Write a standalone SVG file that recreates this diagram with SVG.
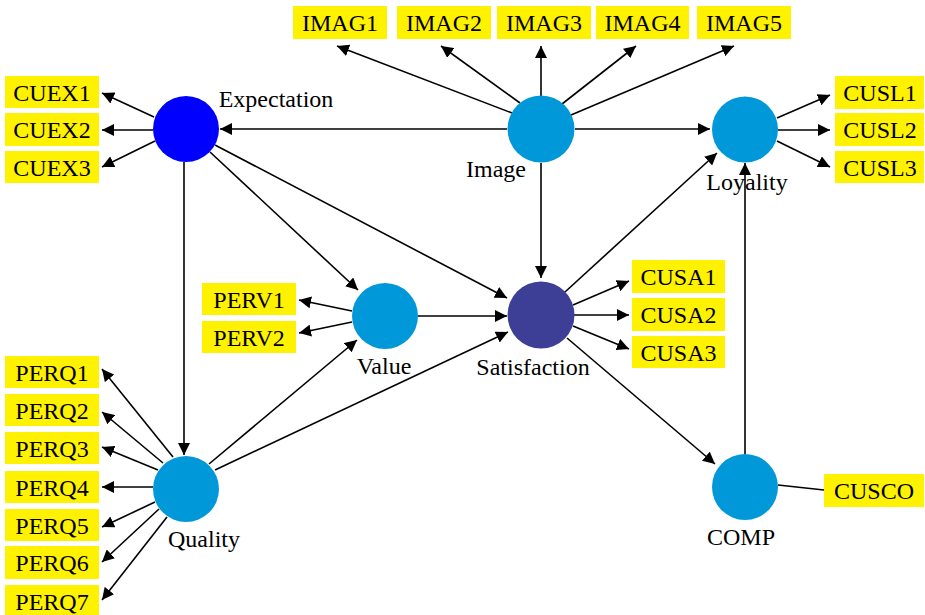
<svg xmlns="http://www.w3.org/2000/svg" width="925" height="615" viewBox="0 0 925 615">
<style>
.box{fill:#FFF200}
.bt{font-family:"Liberation Serif","Times New Roman",serif;font-size:24px;fill:#000;text-anchor:middle}
.lbl{font-family:"Liberation Serif","Times New Roman",serif;font-size:24px;fill:#000;text-anchor:middle}
.lv{fill:#0098D9}
.c{stroke:#000;stroke-width:1.6;fill:none;marker-end:url(#ah)}
.c0{stroke:#000;stroke-width:1.6;fill:none}
</style>
<defs>
<marker id="ah" markerUnits="userSpaceOnUse" markerWidth="13" markerHeight="12" refX="12" refY="6" orient="auto">
<path d="M0,0 L12,6 L0,12 z" fill="#000"/>
</marker>
</defs>
<rect width="925" height="615" fill="#fff"/>
<g id="connectors">
<line class="c" x1="512" y1="113" x2="337" y2="46"/>
<line class="c" x1="520" y1="103" x2="441" y2="46"/>
<line class="c" x1="541" y1="96" x2="541" y2="46"/>
<line class="c" x1="562" y1="104" x2="636" y2="46"/>
<line class="c" x1="571" y1="115" x2="734" y2="46"/>
<line class="c" x1="507" y1="129" x2="220" y2="129"/>
<line class="c" x1="575" y1="129" x2="710" y2="129"/>
<line class="c" x1="541" y1="163" x2="541" y2="278"/>
<line class="c" x1="154" y1="117" x2="102" y2="93"/>
<line class="c" x1="153" y1="130" x2="102" y2="130"/>
<line class="c" x1="155" y1="141" x2="102" y2="167"/>
<line class="c" x1="184" y1="162" x2="184" y2="455"/>
<line class="c" x1="210" y1="152" x2="358" y2="290"/>
<line class="c" x1="215" y1="145" x2="507" y2="298"/>
<line class="c" x1="173" y1="457" x2="102" y2="369"/>
<line class="c" x1="163" y1="463" x2="102" y2="412"/>
<line class="c" x1="158" y1="470" x2="102" y2="447"/>
<line class="c" x1="153" y1="487" x2="102" y2="487"/>
<line class="c" x1="155" y1="502" x2="102" y2="527"/>
<line class="c" x1="159" y1="509" x2="102" y2="562"/>
<line class="c" x1="167" y1="517" x2="102" y2="600"/>
<line class="c" x1="209" y1="464" x2="357" y2="340"/>
<line class="c" x1="215" y1="470" x2="508" y2="332"/>
<line class="c" x1="352" y1="311" x2="299" y2="300"/>
<line class="c" x1="352" y1="322" x2="299" y2="333"/>
<line class="c" x1="418" y1="316" x2="507" y2="316"/>
<line class="c" x1="573" y1="305" x2="629" y2="281"/>
<line class="c" x1="574" y1="315" x2="629" y2="315"/>
<line class="c" x1="573" y1="326" x2="629" y2="349"/>
<line class="c" x1="565" y1="292" x2="717" y2="153"/>
<line class="c" x1="567" y1="338" x2="715" y2="464"/>
<line class="c" x1="777" y1="118" x2="830" y2="95"/>
<line class="c" x1="778" y1="130" x2="830" y2="130"/>
<line class="c" x1="777" y1="141" x2="830" y2="167"/>
<line class="c" x1="745" y1="454" x2="745" y2="163"/>
<line class="c0" x1="778" y1="485" x2="824" y2="490"/>
</g>
<g id="expectation"><circle cx="186" cy="129" r="33" fill="#0000FF"/><text class="lbl" x="276" y="107">Expectation</text></g>
<g id="image"><circle cx="541" cy="129" r="33.5" class="lv"/><text class="lbl" x="496" y="177">Image</text></g>
<g id="loyality"><circle cx="745" cy="129.5" r="33" class="lv"/><text class="lbl" x="747" y="190">Loyality</text></g>
<g id="value"><circle cx="385" cy="316" r="33" class="lv"/><text class="lbl" x="384" y="374">Value</text></g>
<g id="satisfaction"><circle cx="541" cy="315" r="33.5" fill="#3C3F95"/><text class="lbl" x="533" y="375">Satisfaction</text></g>
<g id="quality"><circle cx="186" cy="489" r="33" class="lv"/><text class="lbl" x="204" y="547">Quality</text></g>
<g id="comp"><circle cx="745" cy="487" r="33" class="lv"/><text class="lbl" x="741" y="545">COMP</text></g>
<g id="imag1"><rect class="box" x="293" y="6" width="94" height="33"/><text class="bt" x="340" y="31">IMAG1</text></g>
<g id="imag2"><rect class="box" x="397" y="6" width="94" height="33"/><text class="bt" x="444" y="31">IMAG2</text></g>
<g id="imag3"><rect class="box" x="497" y="6" width="94" height="33"/><text class="bt" x="544" y="31">IMAG3</text></g>
<g id="imag4"><rect class="box" x="596" y="6" width="93" height="33"/><text class="bt" x="642.5" y="31">IMAG4</text></g>
<g id="imag5"><rect class="box" x="697" y="6" width="94" height="33"/><text class="bt" x="744" y="31">IMAG5</text></g>
<g id="cuex1"><rect class="box" x="5" y="76" width="94" height="32"/><text class="bt" x="52" y="101">CUEX1</text></g>
<g id="cuex2"><rect class="box" x="5" y="113" width="94" height="33"/><text class="bt" x="52" y="138">CUEX2</text></g>
<g id="cuex3"><rect class="box" x="5" y="151" width="94" height="32"/><text class="bt" x="52" y="176">CUEX3</text></g>
<g id="cusl1"><rect class="box" x="835" y="76" width="89" height="33"/><text class="bt" x="880" y="101">CUSL1</text></g>
<g id="cusl2"><rect class="box" x="835" y="113" width="89" height="33"/><text class="bt" x="880" y="138">CUSL2</text></g>
<g id="cusl3"><rect class="box" x="835" y="151" width="89" height="32"/><text class="bt" x="880" y="176">CUSL3</text></g>
<g id="perv1"><rect class="box" x="202" y="283" width="94" height="32"/><text class="bt" x="249" y="308">PERV1</text></g>
<g id="perv2"><rect class="box" x="202" y="321" width="94" height="32"/><text class="bt" x="249" y="346">PERV2</text></g>
<g id="cusa1"><rect class="box" x="632" y="260" width="93" height="33"/><text class="bt" x="678.5" y="285">CUSA1</text></g>
<g id="cusa2"><rect class="box" x="632" y="298" width="93" height="33"/><text class="bt" x="678.5" y="323">CUSA2</text></g>
<g id="cusa3"><rect class="box" x="632" y="336" width="93" height="32"/><text class="bt" x="678.5" y="361">CUSA3</text></g>
<g id="cusco"><rect class="box" x="824" y="474" width="100" height="33"/><text class="bt" x="874" y="499">CUSCO</text></g>
<g id="perq1"><rect class="box" x="5" y="356" width="94" height="32"/><text class="bt" x="52" y="381">PERQ1</text></g>
<g id="perq2"><rect class="box" x="5" y="394" width="94" height="32"/><text class="bt" x="52" y="419">PERQ2</text></g>
<g id="perq3"><rect class="box" x="5" y="432" width="94" height="32"/><text class="bt" x="52" y="457">PERQ3</text></g>
<g id="perq4"><rect class="box" x="5" y="471" width="94" height="32"/><text class="bt" x="52" y="496">PERQ4</text></g>
<g id="perq5"><rect class="box" x="5" y="509" width="94" height="32"/><text class="bt" x="52" y="534">PERQ5</text></g>
<g id="perq6"><rect class="box" x="5" y="546" width="94" height="33"/><text class="bt" x="52" y="571">PERQ6</text></g>
<g id="perq7"><rect class="box" x="5" y="585" width="94" height="32"/><text class="bt" x="52" y="610">PERQ7</text></g>
</svg>
